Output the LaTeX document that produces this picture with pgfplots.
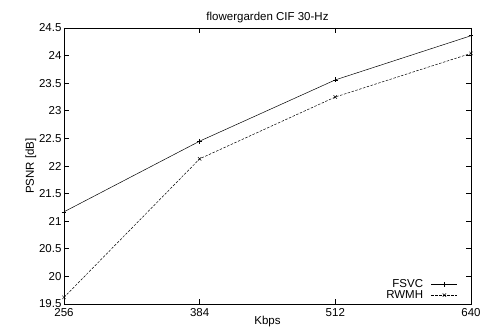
\documentclass[border=0pt]{standalone}
\usepackage{pgfplots}
\pgfplotsset{compat=1.18}
\usepackage{fontspec}
\setmainfont{Liberation Sans}
\begin{document}
\begin{tikzpicture}[x=1pt,y=1pt]
\useasboundingbox (-64,-32) rectangle (417,304);
\begin{axis}[
  at={(0,0)}, anchor=south west,
  scale only axis, width=407pt, height=276pt,
  xmin=256, xmax=640, ymin=19.5, ymax=24.5,
  xtick={256,384,512,640},
  ytick={19.5,20,20.5,21,21.5,22,22.5,23,23.5,24,24.5},
  yticklabel style={/pgf/number format/fixed},
  /pgf/number format/assume math mode=true,
  tick align=inside, major tick length=5pt,
  tick style={black, line width=0.6pt},
  axis line style={line width=0.6pt},
  font=\fontsize{11.5}{12}\selectfont,
  title={flowergarden CIF 30-Hz},
  title style={yshift=-4pt},
  xlabel={Kbps}, ylabel={PSNR [dB]},
  xticklabel style={yshift=-1pt},
  yticklabel style={xshift=1pt},
  xlabel style={yshift=7pt},
  ylabel style={yshift=-4pt},
  legend style={draw=none, fill=none, at={(0.975,0.0)}, anchor=south east,
    font=\fontsize{11.5}{8}\selectfont, row sep=-3pt,
    legend image code/.code={\path (0pt,0pt); \draw[mark repeat=2,mark phase=2,#1] plot coordinates {(6pt,0pt) (19pt,0pt) (32pt,0pt)};}},
  legend cell align=right, legend plot pos=right,
]
\addplot[black, line width=0.5pt, mark=+, mark size=2.4pt] coordinates {
  (256,21.17) (384,22.45) (512,23.56) (640,24.36)};
\addlegendentry{FSVC}
\addplot[black, line width=0.5pt, dash pattern=on 2.5pt off 1.5pt, mark=x, mark size=2.4pt, mark options={solid}] coordinates {
  (256,19.62) (384,22.13) (512,23.25) (640,24.04)};
\addlegendentry{RWMH}
\end{axis}
\end{tikzpicture}
\end{document}
